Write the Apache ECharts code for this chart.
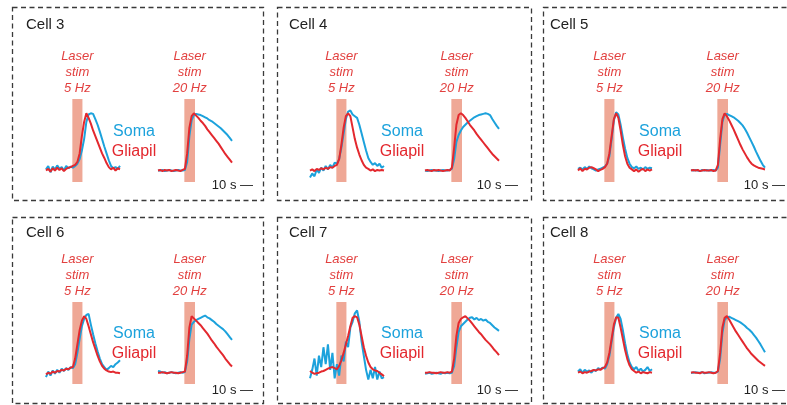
<!DOCTYPE html>
<html><head><meta charset="utf-8">
<script src="https://cdn.jsdelivr.net/npm/echarts@6/dist/echarts.min.js"></script>
<style>html,body{margin:0;padding:0;background:#fff}#c{width:787px;height:405px}</style>
</head><body><div id="c"></div>
<script>
// time (s) of each sample
const time = [0,2,4,6,8,10,12,14,16,18,20,22,24,26,28,30,32,34,36,38,40,42,44,46,48,50,52,54,56,58,60,62,64,66];
const cells = ['Cell 3','Cell 4','Cell 5','Cell 6','Cell 7','Cell 8'];
const stimLabels = ['Laser\nstim\n5 Hz','Laser\nstim\n20 Hz'];
const stim5 = [23.5, 32.5];
const stim20 = [23.5, 33];
const scaleLabel = '10 s —';

// normalized ΔF/F, soma (blue) and gliapil (red)
const cell3_soma5  = [0.02,0.08,-0.03,0.07,0.02,0.09,0.03,0.06,0.00,0.08,0.04,0.07, 0.05,0.08,0.12,0.20,0.35,0.55,0.85,0.98,1.00,0.99,0.90,0.80,0.68,0.55,0.42,0.30,0.18,0.08,0.04,0.06,0.03,0.08];
const cell3_glia5  = [0.00,0.03,-0.02,0.04,0.00,0.05,0.01,0.04,-0.01,0.03,0.05,0.06, 0.08,0.10,0.15,0.30,0.60,0.85,1.00,0.92,0.82,0.70,0.60,0.50,0.40,0.30,0.22,0.13,0.06,0.02,0.05,0.00,0.04,0.02];
const cell3_soma20 = [0.00,0.00,0.01,-0.01,0.00,0.01,0.00,-0.01,0.00,0.01,0.00,0.00, 0.01,0.15,0.60,0.88,0.97,0.99,0.98,0.97,0.95,0.93,0.91,0.88,0.86,0.83,0.80,0.77,0.74,0.70,0.66,0.62,0.57,0.52];
const cell3_glia20 = [0.00,0.01,-0.01,0.01,0.00,0.01,-0.01,0.00,0.01,0.00,-0.01,0.01, 0.03,0.30,0.75,0.95,1.00,0.96,0.92,0.87,0.83,0.78,0.72,0.67,0.62,0.57,0.52,0.47,0.41,0.35,0.29,0.24,0.19,0.14];

const cell4_soma5  = [-0.12,-0.05,-0.10,0.02,-0.04,0.05,0.00,0.08,0.02,0.10,0.05,0.14, 0.12,0.20,0.40,0.65,0.90,1.03,1.05,0.98,0.95,0.92,0.80,0.65,0.50,0.35,0.22,0.15,0.10,0.13,0.08,0.12,0.05,0.08];
const cell4_glia5  = [0.00,0.02,-0.01,0.03,0.01,0.04,0.02,0.05,0.03,0.06,0.05,0.08, 0.10,0.20,0.45,0.75,0.95,1.00,0.95,0.75,0.55,0.40,0.28,0.18,0.10,0.05,0.03,0.00,0.02,-0.01,0.01,0.00,0.01,0.00];
const cell4_soma20 = [0.00,-0.01,0.00,0.01,0.00,0.00,-0.01,0.00,0.01,0.00,0.00,0.01, 0.03,0.20,0.50,0.62,0.70,0.76,0.80,0.84,0.87,0.90,0.93,0.95,0.97,0.98,0.99,1.00,0.99,0.97,0.90,0.84,0.78,0.73];
const cell4_glia20 = [0.00,0.01,0.00,-0.01,0.01,0.00,0.01,0.00,-0.01,0.00,0.01,0.00, 0.05,0.40,0.80,0.97,1.00,0.97,0.92,0.86,0.80,0.75,0.70,0.64,0.59,0.54,0.49,0.44,0.39,0.34,0.29,0.25,0.21,0.17];

const cell5_soma5  = [0.03,0.05,0.02,0.06,0.03,0.07,0.04,0.02,0.00,0.02,0.03,0.05, 0.07,0.12,0.25,0.55,0.88,1.02,0.98,0.80,0.58,0.38,0.22,0.12,0.06,0.04,0.07,0.03,0.05,0.02,0.06,0.03,0.05,0.04];
const cell5_glia5  = [0.00,0.04,-0.01,0.03,0.02,0.05,0.06,0.04,0.02,-0.01,0.01,0.03, 0.06,0.12,0.30,0.60,0.90,1.00,0.92,0.70,0.45,0.25,0.12,0.05,0.02,-0.01,0.02,-0.02,0.01,0.03,-0.01,0.02,0.00,0.02];
const cell5_soma20 = [0.01,0.00,0.01,0.00,-0.01,0.01,0.00,0.01,0.00,0.00,0.01,0.00, 0.05,0.45,0.85,0.98,0.99,0.97,0.95,0.93,0.90,0.87,0.83,0.79,0.73,0.66,0.58,0.50,0.42,0.33,0.25,0.17,0.10,0.05];
const cell5_glia20 = [0.00,0.01,0.00,0.01,-0.01,0.00,0.01,0.00,0.00,0.01,-0.01,0.00, 0.10,0.55,0.90,1.00,0.95,0.88,0.80,0.72,0.63,0.54,0.45,0.37,0.30,0.23,0.17,0.12,0.09,0.07,0.05,0.04,0.03,0.02];

const cell6_soma5  = [-0.08,0.02,-0.05,0.04,-0.02,0.05,0.00,0.07,0.03,0.08,0.05,0.10, 0.08,0.15,0.35,0.60,0.82,0.95,1.02,1.04,0.85,0.68,0.52,0.38,0.25,0.15,0.10,0.05,0.08,0.12,0.10,0.15,0.18,0.22];
const cell6_glia5  = [-0.03,0.00,-0.02,0.02,0.00,0.03,0.02,0.05,0.04,0.07,0.06,0.09, 0.10,0.25,0.50,0.75,0.92,1.00,0.95,0.82,0.68,0.54,0.42,0.30,0.20,0.12,0.07,0.04,0.02,0.01,0.02,0.00,0.00,-0.01];
const cell6_soma20 = [0.03,0.02,0.00,0.01,-0.01,0.00,0.01,0.00,-0.01,0.00,0.01,0.00, 0.01,0.20,0.60,0.85,0.90,0.93,0.95,0.97,0.99,1.01,0.98,0.96,0.93,0.90,0.86,0.83,0.80,0.77,0.73,0.68,0.63,0.58];
const cell6_glia20 = [0.00,0.00,0.01,0.00,-0.01,0.00,0.01,0.00,0.00,-0.01,0.00,0.01, 0.02,0.30,0.80,1.00,0.96,0.92,0.88,0.84,0.79,0.74,0.69,0.63,0.57,0.52,0.46,0.41,0.36,0.31,0.25,0.20,0.15,0.11];

const cell7_soma5  = [-0.10,0.05,0.25,-0.05,0.30,0.10,0.45,0.15,0.50,0.05,0.35,-0.10, 0.15,-0.05,0.30,0.20,0.55,0.45,0.80,0.90,1.05,1.10,0.90,0.55,0.30,0.05,-0.12,0.05,-0.10,0.10,-0.12,0.02,-0.10,-0.08];
const cell7_glia5  = [0.03,0.00,-0.02,-0.01,0.00,0.02,0.03,0.05,0.07,0.09,0.10,0.08, 0.06,0.12,0.22,0.35,0.50,0.65,0.82,0.97,1.00,0.98,0.85,0.65,0.45,0.30,0.18,0.10,0.06,0.04,0.03,0.00,-0.03,-0.06];
const cell7_soma20 = [-0.02,-0.01,0.00,-0.02,-0.01,0.00,-0.01,-0.02,0.00,-0.01,0.00,-0.01, 0.00,0.12,0.45,0.72,0.82,0.86,0.90,0.94,0.97,0.98,0.94,0.97,0.93,0.95,0.92,0.94,0.90,0.88,0.84,0.80,0.77,0.74];
const cell7_glia20 = [0.00,0.00,0.01,0.00,0.00,-0.01,0.00,0.01,0.00,0.00,0.01,0.00, 0.02,0.25,0.65,0.88,0.95,0.98,1.00,0.96,0.92,0.87,0.82,0.77,0.72,0.68,0.63,0.58,0.54,0.50,0.45,0.40,0.36,0.31];

const cell8_soma5  = [0.02,0.06,0.00,0.05,0.02,0.04,0.00,0.05,0.03,0.08,0.06,0.09, 0.07,0.15,0.30,0.55,0.80,0.97,1.04,0.95,0.75,0.52,0.32,0.18,0.10,0.06,0.10,0.03,0.07,0.02,0.05,0.10,0.03,0.06];
const cell8_glia5  = [0.00,0.02,-0.01,0.01,0.00,0.02,0.03,0.05,0.04,0.06,0.05,0.08, 0.10,0.18,0.35,0.60,0.85,0.98,0.97,0.80,0.60,0.40,0.24,0.13,0.06,0.03,0.00,0.02,-0.01,0.01,0.00,-0.01,0.01,0.00];
const cell8_soma20 = [0.00,0.00,0.01,0.00,0.00,0.01,-0.01,0.00,0.00,0.01,0.00,0.00, 0.02,0.25,0.70,0.93,0.98,0.99,0.97,0.95,0.93,0.91,0.89,0.86,0.83,0.79,0.76,0.72,0.67,0.62,0.56,0.50,0.43,0.36];
const cell8_glia20 = [0.00,0.01,0.00,0.00,-0.01,0.01,0.00,0.00,0.01,0.00,-0.01,0.00, 0.03,0.35,0.80,0.97,1.00,0.94,0.87,0.80,0.73,0.67,0.61,0.55,0.49,0.43,0.38,0.33,0.29,0.25,0.21,0.18,0.15,0.12];

const somaData = [[cell3_soma5,cell3_soma20],[cell4_soma5,cell4_soma20],[cell5_soma5,cell5_soma20],[cell6_soma5,cell6_soma20],[cell7_soma5,cell7_soma20],[cell8_soma5,cell8_soma20]];
const gliaData = [[cell3_glia5,cell3_glia20],[cell4_glia5,cell4_glia20],[cell5_glia5,cell5_glia20],[cell6_glia5,cell6_glia20],[cell7_glia5,cell7_glia20],[cell8_glia5,cell8_glia20]];

// layout
const FONT = '"Liberation Sans", Arial, Helvetica, sans-serif';
const BLUE = '#1ca2dc', RED = '#e3282e', LASER_TXT = '#e2403f', BAR = '#efa896', DARK = '#222';
const traceLeft = [[46,158],[310,425],[578,691]];
const rowTop = [99,302], rowH = [83,82];
const boxX = [12,277,543], boxW = [251,254,262];
const boxY = [7,217], boxH = [193,186];
const cellLabelX = [26,289,550], cellLabelY = [25,233];
const legendX = [134,402,660], somaY = [132,334], gliaY = [152,354];
const scaleX = [253,518,785], scaleY = [185,390];

const grids=[], xAxes=[], yAxes=[], series=[], graphics=[];
let gi = 0;
for (let c = 0; c < 6; c++) {
  const row = Math.floor(c/3), col = c%3;
  for (let s = 0; s < 2; s++) {
    grids.push({left: traceLeft[col][s], top: rowTop[row], width: 74, height: rowH[row]});
    xAxes.push({type:'value', gridIndex: gi, min: 0, max: 66, show: false});
    yAxes.push({type:'value', gridIndex: gi, min: -0.2, max: 1.25, show: false});
    const st = s === 0 ? stim5 : stim20;
    series.push({type:'line', xAxisIndex: gi, yAxisIndex: gi, symbol:'none', silent:true,
      data: time.map((t,i)=>[t, somaData[c][s][i]]),
      lineStyle:{color: BLUE, width: 2}, z: 3,
      markArea: {silent:true, itemStyle:{color: BAR, opacity: 1},
        label:{show:true, position:'top', distance:3, formatter: stimLabels[s], color: LASER_TXT,
          fontStyle:'italic', fontSize:13, lineHeight:16, fontFamily: FONT, align:'center'},
        data: [[{xAxis: st[0]}, {xAxis: st[1]}]]}
    });
    series.push({type:'line', xAxisIndex: gi, yAxisIndex: gi, symbol:'none', silent:true,
      data: time.map((t,i)=>[t, gliaData[c][s][i]]),
      lineStyle:{color: RED, width: 2}, z: 4});
    gi++;
  }
  graphics.push({type:'rect', silent:true, shape:{x: boxX[col]+0.5, y: boxY[row]+0.5, width: boxW[col], height: boxH[row]},
    style:{fill:'none', stroke:'#3a3a3a', lineWidth:1.3, lineDash:[5,3.5]}});
  graphics.push({type:'text', x: cellLabelX[col], y: cellLabelY[row], style:{text: cells[c], fill: DARK, font: '15px '+FONT, textVerticalAlign:'middle', textAlign:'left'}});
  graphics.push({type:'text', x: legendX[col], y: somaY[row], style:{text:'Soma', fill: BLUE, font:'16px '+FONT, textAlign:'center', textVerticalAlign:'middle'}});
  graphics.push({type:'text', x: legendX[col], y: gliaY[row], style:{text:'Gliapil', fill: RED, font:'16px '+FONT, textAlign:'center', textVerticalAlign:'middle'}});
  graphics.push({type:'text', x: scaleX[col], y: scaleY[row], style:{text: scaleLabel, fill: DARK, font:'13px '+FONT, textAlign:'right', textVerticalAlign:'middle'}});
}

const chart = echarts.init(document.getElementById('c'), null, {renderer:'canvas'});
chart.setOption({animation:false, backgroundColor:'#fff', grid: grids, xAxis: xAxes, yAxis: yAxes, series: series, graphic: graphics});
</script></body></html>
